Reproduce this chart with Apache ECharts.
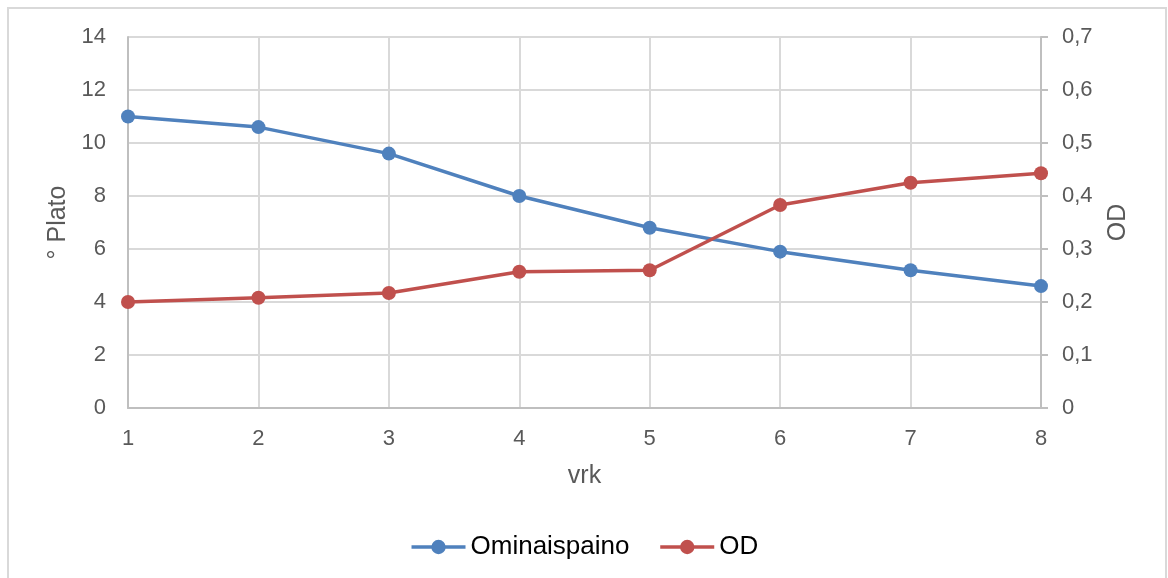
<!DOCTYPE html>
<html>
<head>
<meta charset="utf-8">
<script src="https://cdn.jsdelivr.net/npm/echarts@6/dist/echarts.min.js"></script>
<style>
  html, body { margin: 0; padding: 0; background: #fff; }
  #chart { width: 1168px; height: 578px; }
</style>
</head>
<body>
<div id="chart"></div>
<script>
// Fermentation days
const days = ['1', '2', '3', '4', '5', '6', '7', '8'];
// Specific gravity in degrees Plato
const ominaispaino = [11.0, 10.6, 9.6, 8.0, 6.8, 5.9, 5.2, 4.6];
// Optical density
const od = [0.200, 0.208, 0.217, 0.257, 0.260, 0.383, 0.425, 0.443];

const FONT = '"Liberation Sans", Arial, sans-serif';
const LABEL_COLOR = '#595959';
const GRID_COLOR = '#d9d9d9';
const AXIS_COLOR = '#bfbfbf';
const BLUE = '#4f81bd';
const RED = '#c0504d';
const TICK_SIZE = 22;
const TITLE_SIZE = 25;

const chart = echarts.init(document.getElementById('chart'));

chart.setOption({
  animation: false,
  backgroundColor: '#fff',
  textStyle: { fontFamily: FONT },
  graphic: [{
    type: 'rect',
    shape: { x: 8, y: 8, width: 1158, height: 580 },
    style: { fill: 'none', stroke: '#d9d9d9', lineWidth: 2 },
    silent: true,
    z: -10
  }],
  grid: { left: 128, right: 127, top: 37, bottom: 170 },
  legend: {
    top: 529,
    left: 'center',
    itemWidth: 54,
    itemHeight: 18,
    itemGap: 29,
    lineStyle: { width: 3.5 },
    textStyle: { fontFamily: FONT, fontSize: 26, color: '#000' },
    data: ['Ominaispaino', 'OD']
  },
  xAxis: {
    type: 'category',
    data: days,
    boundaryGap: false,
    name: 'vrk',
    nameLocation: 'middle',
    nameGap: 56,
    nameTextStyle: { fontFamily: FONT, fontSize: TITLE_SIZE, color: LABEL_COLOR },
    axisLine: { lineStyle: { color: AXIS_COLOR, width: 2 } },
    axisTick: { show: false },
    axisLabel: { margin: 20, fontFamily: FONT, fontSize: TICK_SIZE, color: LABEL_COLOR },
    splitLine: { show: true, lineStyle: { color: GRID_COLOR, width: 2 } }
  },
  yAxis: [{
    type: 'value',
    min: 0, max: 14, interval: 2,
    name: '° Plato',
    nameLocation: 'middle',
    nameRotate: 90,
    nameGap: 56,
    nameTextStyle: { fontFamily: FONT, fontSize: TITLE_SIZE, color: LABEL_COLOR },
    axisLine: { show: true, lineStyle: { color: AXIS_COLOR, width: 2 } },
    axisTick: { show: false },
    axisLabel: { margin: 22, fontFamily: FONT, fontSize: TICK_SIZE, color: LABEL_COLOR },
    splitLine: { show: true, lineStyle: { color: GRID_COLOR, width: 2 } }
  }, {
    type: 'value',
    min: 0, max: 0.7, interval: 0.1,
    position: 'right',
    name: 'OD',
    nameLocation: 'middle',
    nameRotate: 90,
    nameGap: 65,
    nameTextStyle: { fontFamily: FONT, fontSize: TITLE_SIZE, color: LABEL_COLOR },
    axisLine: { show: true, lineStyle: { color: AXIS_COLOR, width: 2 } },
    axisTick: { show: true, length: 7, lineStyle: { color: AXIS_COLOR, width: 2 } },
    axisLabel: {
      margin: 21, fontFamily: FONT, fontSize: TICK_SIZE, color: LABEL_COLOR,
      formatter: v => v === 0 ? '0' : v.toFixed(1).replace('.', ',')
    },
    splitLine: { show: false }
  }],
  series: [{
    name: 'Ominaispaino',
    type: 'line',
    yAxisIndex: 0,
    data: ominaispaino,
    symbol: 'circle',
    symbolSize: 14,
    lineStyle: { color: BLUE, width: 3.5 },
    itemStyle: { color: BLUE }
  }, {
    name: 'OD',
    type: 'line',
    yAxisIndex: 1,
    data: od,
    symbol: 'circle',
    symbolSize: 14,
    lineStyle: { color: RED, width: 3.5 },
    itemStyle: { color: RED }
  }]
});
</script>
</body>
</html>
